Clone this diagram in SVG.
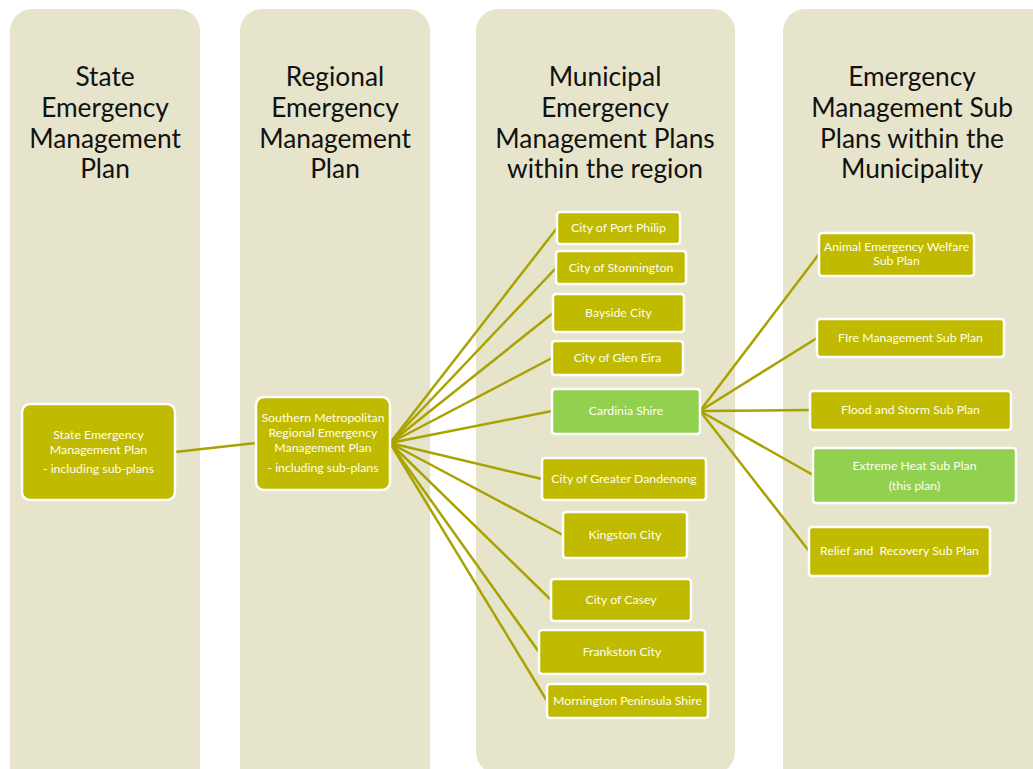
<svg xmlns="http://www.w3.org/2000/svg" width="1033" height="769" viewBox="0 0 1033 769">
<style>
.col{fill:#E6E4CB}
.title{font-family:Lato,"Liberation Sans",sans-serif;font-size:26.3px;fill:#111;text-anchor:middle}
.n{fill:#C0BA00;stroke:#fff;stroke-width:2.5}
.g{fill:#92D050;stroke:#fff;stroke-width:2.5}
.t{font-family:Lato,"Liberation Sans",sans-serif;font-size:12.3px;fill:#FFFFF0;text-anchor:middle}
.c line{stroke:#A9A200;stroke-width:2.5}
</style>
<rect width="1033" height="769" fill="#fff"/>
<g id="columns">
<rect class="col" x="10" y="9" width="190" height="790" rx="22"/>
<rect class="col" x="240" y="9" width="190" height="790" rx="22"/>
<rect class="col" x="476" y="9" width="259" height="765" rx="22"/>
<rect class="col" x="783" y="9" width="290" height="790" rx="22"/>
</g>
<g id="titles">
<text class="title" x="105" y="86">State</text>
<text class="title" x="105" y="117">Emergency</text>
<text class="title" x="105" y="148">Management</text>
<text class="title" x="105" y="178">Plan</text>
<text class="title" x="335" y="86">Regional</text>
<text class="title" x="335" y="117">Emergency</text>
<text class="title" x="335" y="148">Management</text>
<text class="title" x="335" y="178">Plan</text>
<text class="title" x="605" y="86">Municipal</text>
<text class="title" x="605" y="117">Emergency</text>
<text class="title" x="605" y="148">Management Plans</text>
<text class="title" x="605" y="178">within the region</text>
<text class="title" x="912" y="86">Emergency</text>
<text class="title" x="912" y="117">Management Sub</text>
<text class="title" x="912" y="148">Plans within the</text>
<text class="title" x="912" y="178">Municipality</text>
</g>
<g id="connectors" class="c">
<line x1="175" y1="452" x2="256" y2="443"/>
<line x1="390" y1="443" x2="557" y2="228"/>
<line x1="390" y1="443" x2="556" y2="268"/>
<line x1="390" y1="443" x2="553" y2="313"/>
<line x1="390" y1="443" x2="552" y2="358"/>
<line x1="390" y1="443" x2="552" y2="411"/>
<line x1="390" y1="443" x2="542" y2="479"/>
<line x1="390" y1="443" x2="563" y2="535"/>
<line x1="390" y1="443" x2="551" y2="600"/>
<line x1="390" y1="443" x2="539" y2="652"/>
<line x1="390" y1="443" x2="547" y2="701"/>
<line x1="700" y1="411" x2="819" y2="254"/>
<line x1="700" y1="411" x2="817" y2="338"/>
<line x1="700" y1="411" x2="810" y2="410"/>
<line x1="700" y1="411" x2="813" y2="475"/>
<line x1="700" y1="411" x2="809" y2="551"/>
</g>
<g id="state">
<rect class="n" x="22" y="404" width="153" height="96" rx="8"/>
<text class="t" x="98.5" y="439">State Emergency</text>
<text class="t" x="98.5" y="454">Management Plan</text>
<text class="t" x="98.5" y="473">- including sub-plans</text>
</g>
<g id="regional">
<rect class="n" x="256" y="397" width="134" height="93" rx="8"/>
<text class="t" x="323" y="422">Southern Metropolitan</text>
<text class="t" x="323" y="437">Regional Emergency</text>
<text class="t" x="323" y="452">Management Plan</text>
<text class="t" x="323" y="472">- including sub-plans</text>
</g>
<g id="portphilip">
<rect class="n" x="557" y="212" width="123" height="32" rx="3"/>
<text class="t" x="618.5" y="232">City of Port Philip</text>
</g>
<g id="stonnington">
<rect class="n" x="556" y="251" width="130" height="33" rx="3"/>
<text class="t" x="621" y="272">City of Stonnington</text>
</g>
<g id="bayside">
<rect class="n" x="553" y="294" width="131" height="38" rx="3"/>
<text class="t" x="618.5" y="317">Bayside City</text>
</g>
<g id="gleneira">
<rect class="n" x="552" y="341" width="131" height="34" rx="3"/>
<text class="t" x="617.5" y="362">City of Glen Eira</text>
</g>
<g id="cardinia">
<rect class="g" x="552" y="389" width="148" height="45" rx="3"/>
<text class="t" x="626" y="415">Cardinia Shire</text>
</g>
<g id="dandenong">
<rect class="n" x="542" y="458" width="164" height="42" rx="3"/>
<text class="t" x="624" y="483">City of Greater Dandenong</text>
</g>
<g id="kingston">
<rect class="n" x="563" y="512" width="124" height="46" rx="3"/>
<text class="t" x="625" y="539">Kingston City</text>
</g>
<g id="casey">
<rect class="n" x="551" y="579" width="140" height="42" rx="3"/>
<text class="t" x="621" y="604">City of Casey</text>
</g>
<g id="frankston">
<rect class="n" x="539" y="630" width="166" height="44" rx="3"/>
<text class="t" x="622" y="656">Frankston City</text>
</g>
<g id="mornington">
<rect class="n" x="547" y="684" width="161" height="34" rx="3"/>
<text class="t" x="627.5" y="705">Mornington Peninsula Shire</text>
</g>
<g id="animal">
<rect class="n" x="819" y="233" width="155" height="43" rx="3"/>
<text class="t" x="896.5" y="251">Animal Emergency Welfare</text>
<text class="t" x="896.5" y="265">Sub Plan</text>
</g>
<g id="fire">
<rect class="n" x="817" y="319" width="187" height="38" rx="3"/>
<text class="t" x="910.5" y="342">FIre Management Sub Plan</text>
</g>
<g id="flood">
<rect class="n" x="810" y="391" width="201" height="39" rx="3"/>
<text class="t" x="910.5" y="414">Flood and Storm Sub Plan</text>
</g>
<g id="heat">
<rect class="g" x="813" y="448" width="203" height="55" rx="3"/>
<text class="t" x="914.5" y="470">Extreme Heat Sub Plan</text>
<text class="t" x="914.5" y="490">(this plan)</text>
</g>
<g id="relief">
<rect class="n" x="809" y="527" width="181" height="49" rx="3"/>
<text class="t" x="899.5" y="555" xml:space="preserve">Relief and  Recovery Sub Plan</text>
</g>
</svg>
